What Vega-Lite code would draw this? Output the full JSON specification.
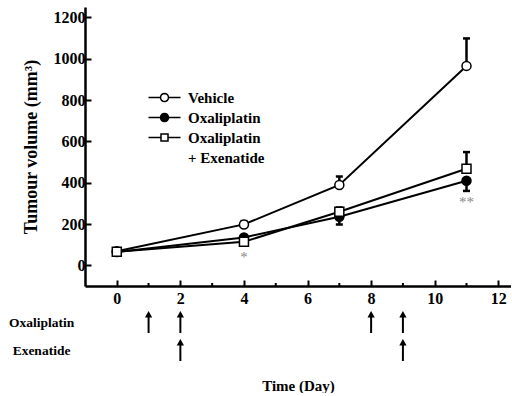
{
  "$schema": "https://vega.github.io/schema/vega-lite/v6.json",
  "padding": {"left": 8, "top": 7, "right": 0, "bottom": 0},
  "spacing": 2,
  "background": "white",
  "config": {
    "view": {"stroke": null},
    "font": "Liberation Serif",
    "axis": {
      "grid": false,
      "domainColor": "black",
      "domainWidth": 2.5,
      "tickColor": "black",
      "tickWidth": 2,
      "labelFont": "Liberation Serif",
      "labelFontWeight": "bold",
      "labelFontSize": 16,
      "labelColor": "black",
      "titleFont": "Liberation Serif",
      "titleFontWeight": "bold",
      "titleColor": "black"
    }
  },
  "datasets": {
    "growth": [
      {"day": 0, "group": "Vehicle", "mean": 68, "bar": 82},
      {"day": 4, "group": "Vehicle", "mean": 198, "bar": 214},
      {"day": 7, "group": "Vehicle", "mean": 389, "bar": 430},
      {"day": 11, "group": "Vehicle", "mean": 965, "bar": 1098},
      {"day": 0, "group": "Oxaliplatin", "mean": 64, "bar": 50},
      {"day": 4, "group": "Oxaliplatin", "mean": 135, "bar": 122},
      {"day": 7, "group": "Oxaliplatin", "mean": 235, "bar": 198},
      {"day": 11, "group": "Oxaliplatin", "mean": 409, "bar": 360},
      {"day": 0, "group": "Oxaliplatin + Exenatide", "mean": 66, "bar": 80},
      {"day": 4, "group": "Oxaliplatin + Exenatide", "mean": 114, "bar": 124},
      {"day": 7, "group": "Oxaliplatin + Exenatide", "mean": 259, "bar": 280},
      {"day": 11, "group": "Oxaliplatin + Exenatide", "mean": 467, "bar": 548}
    ],
    "minor": [{"day": 1}, {"day": 3}, {"day": 5}, {"day": 7}, {"day": 9}, {"day": 11}],
    "signif": [
      {"day": 4, "value": 53, "label": "*"},
      {"day": 11, "value": 320, "label": "**"}
    ],
    "doses": [
      {"day": 1, "drug": "Oxaliplatin"},
      {"day": 2, "drug": "Oxaliplatin"},
      {"day": 8, "drug": "Oxaliplatin"},
      {"day": 9, "drug": "Oxaliplatin"},
      {"day": 2, "drug": "Exenatide"},
      {"day": 9, "drug": "Exenatide"}
    ]
  },
  "resolve": {"scale": {"x": "independent"}},
  "vconcat": [
    {
      "width": 426,
      "height": 279,
      "resolve": {"scale": {"shape": "independent", "fill": "independent"}},
      "layer": [
        {
          "data": {"name": "growth"},
          "mark": {"type": "line", "color": "black", "strokeWidth": 2},
          "encoding": {
            "x": {
              "field": "day", "type": "quantitative",
              "scale": {"domain": [-1, 12.4], "nice": false, "zero": false},
              "axis": {"values": [0, 2, 4, 6, 8, 10, 12], "format": "d", "tickSize": -6, "labelPadding": 10, "title": null, "labelFlush": false,
                       "labelFont": "Liberation Serif", "labelFontWeight": "bold", "labelFontSize": 16}
            },
            "y": {
              "field": "mean", "type": "quantitative",
              "scale": {"domain": [-100, 1250], "nice": false, "zero": false},
              "axis": {"values": [0, 200, 400, 600, 800, 1000, 1200], "format": "d", "tickSize": -6, "labelPadding": 6, "title": "Tumour volume (mm³)", "titleFontSize": 18, "titlePadding": 13, "labelFlush": false,
                       "labelFont": "Liberation Serif", "labelFontWeight": "bold", "labelFontSize": 16, "titleFont": "Liberation Serif"}
            },
            "detail": {"field": "group"}
          }
        },
        {
          "data": {"name": "growth"},
          "mark": {"type": "rule", "color": "black", "strokeWidth": 2.5},
          "encoding": {
            "x": {"field": "day", "type": "quantitative"},
            "y": {"field": "mean", "type": "quantitative"},
            "y2": {"field": "bar"}
          }
        },
        {
          "data": {"name": "growth"},
          "mark": {"type": "tick", "orient": "horizontal", "color": "black", "opacity": 1, "thickness": 2.5, "size": 7},
          "encoding": {
            "x": {"field": "day", "type": "quantitative"},
            "y": {"field": "bar", "type": "quantitative"}
          }
        },
        {
          "data": {"name": "minor"},
          "mark": {"type": "tick", "orient": "vertical", "color": "black", "opacity": 1, "thickness": 2, "size": 3, "yOffset": -1.5},
          "encoding": {
            "x": {"field": "day", "type": "quantitative"},
            "y": {"datum": -100}
          }
        },
        {
          "data": {"name": "growth"},
          "mark": {"type": "point", "filled": true, "stroke": "black", "strokeWidth": 1.5, "size": 81, "opacity": 1},
          "encoding": {
            "x": {"field": "day", "type": "quantitative"},
            "y": {"field": "mean", "type": "quantitative"},
            "shape": {
              "field": "group", "type": "nominal",
              "scale": {"domain": ["Vehicle", "Oxaliplatin", "Oxaliplatin + Exenatide"], "range": ["circle", "circle", "square"]},
              "legend": null
            },
            "fill": {
              "field": "group", "type": "nominal",
              "scale": {"domain": ["Vehicle", "Oxaliplatin", "Oxaliplatin + Exenatide"], "range": ["white", "black", "white"]},
              "legend": null
            }
          }
        },
        {
          "data": {"name": "growth"},
          "transform": [{"filter": "datum.day < 0"}],
          "mark": {"type": "point", "filled": true, "stroke": "black", "strokeWidth": 2, "opacity": 1},
          "encoding": {
            "x": {"field": "day", "type": "quantitative"},
            "y": {"field": "mean", "type": "quantitative"},
            "shape": {
              "field": "group", "type": "nominal",
              "scale": {"domain": ["Vehicle", "Oxaliplatin", "Oxaliplatin + Exenatide", "+ Exenatide"],
                        "range": [
                          "M-3.2,0L-0.8,0M0.8,0L3.2,0M0.8,0L0.74,0.31L0.57,0.57L0.31,0.74L0,0.8L-0.31,0.74L-0.57,0.57L-0.74,0.31L-0.8,0L-0.74,-0.31L-0.57,-0.57L-0.31,-0.74L0,-0.8L0.31,-0.74L0.57,-0.57L0.74,-0.31Z",
                          "M-3.2,0L-0.8,0M0.8,0L3.2,0M0.8,0L0.74,0.31L0.57,0.57L0.31,0.74L0,0.8L-0.31,0.74L-0.57,0.57L-0.74,0.31L-0.8,0L-0.74,-0.31L-0.57,-0.57L-0.31,-0.74L0,-0.8L0.31,-0.74L0.57,-0.57L0.74,-0.31Z",
                          "M-3.2,0L-0.7,0M0.7,0L3.2,0M-0.7,-0.7L0.7,-0.7L0.7,0.7L-0.7,0.7Z",
                          "M0,0Z"
                        ]},
              "legend": {
                "orient": "none", "legendX": 72, "legendY": 83, "title": null,
                "symbolSize": 100, "rowPadding": 4,
                "labelFont": "Liberation Serif", "labelFontSize": 15, "labelFontWeight": "bold", "labelColor": "black",
                "labelOffset": 16, "labelBaseline": "middle",
                "labelExpr": "datum.label === 'Oxaliplatin + Exenatide' ? 'Oxaliplatin' : datum.label"
              }
            },
            "fill": {
              "field": "group", "type": "nominal",
              "scale": {"domain": ["Vehicle", "Oxaliplatin", "Oxaliplatin + Exenatide", "+ Exenatide"], "range": ["white", "black", "white", "transparent"]}
            }
          }
        },
        {
          "data": {"name": "signif"},
          "mark": {"type": "text", "color": "#888888", "fontSize": 15, "font": "Liberation Serif", "baseline": "middle", "dy": 3},
          "encoding": {
            "x": {"field": "day", "type": "quantitative"},
            "y": {"field": "value", "type": "quantitative"},
            "text": {"field": "label"}
          }
        }
      ]
    },
    {
      "width": 426,
      "height": 56,
      "data": {"name": "doses"},
      "mark": {"type": "point", "filled": true, "color": "black", "opacity": 1, "strokeWidth": 0, "size": 484, "shape": "M0,-1L0.33,-0.4L0.09,-0.4L0.09,1L-0.09,1L-0.09,-0.4L-0.33,-0.4Z"},
      "encoding": {
        "x": {
          "field": "day", "type": "quantitative",
          "scale": {"domain": [-1, 12.4], "nice": false, "zero": false},
          "axis": {"title": "Time (Day)", "titleFontSize": 15, "titlePadding": 14, "labels": false, "ticks": false, "domain": false, "titleFont": "Liberation Serif"}
        },
        "y": {
          "field": "drug", "type": "nominal", "sort": ["Oxaliplatin", "Exenatide"],
          "scale": {"type": "point", "padding": 0.5},
          "axis": {"title": null, "domain": false, "ticks": false, "labelAlign": "center", "labelPadding": 44, "labelFontSize": 13.5, "labelFont": "Liberation Serif", "labelFontWeight": "bold"}
        }
      }
    }
  ]
}
